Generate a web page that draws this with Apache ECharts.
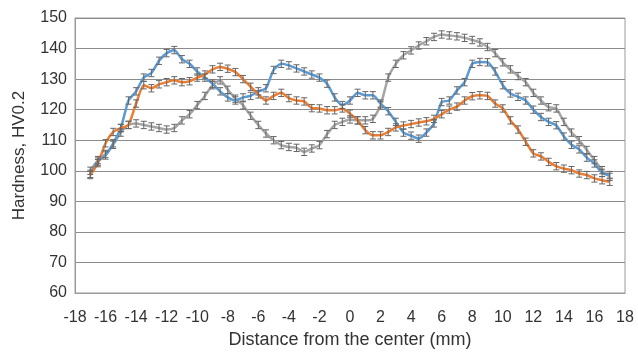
<!DOCTYPE html>
<html>
<head>
<meta charset="utf-8">
<script src="https://cdn.jsdelivr.net/npm/echarts@6/dist/echarts.min.js"></script>
<style>
  html, body { margin: 0; padding: 0; background: #fff; }
  #chart { width: 638px; height: 356px; }
</style>
</head>
<body>
<div id="chart"></div>
<script>
// distance from the center (mm), one reading every 0.5 mm
var xStart = -17;
var xStep = 0.5;

var blueVals = [99, 103, 105, 109, 114, 123, 126, 130.5, 132, 136, 138.5, 139.5, 136.5, 135, 132.5, 130.5, 128.5, 126, 124, 123,
  124, 124.5, 126, 127, 133, 135, 134.5, 133.5, 132.5, 131.5, 130.5, 128.5, 124, 121.5, 123, 125.5, 124.7, 124.7, 122, 119.5,
  116, 112.5, 111.5, 110.5, 112.5, 115.5, 122.5, 123, 126.3, 129, 135, 135.6, 135.5, 132.5, 128, 125.3, 124.2, 123, 120, 117.6,
  116, 114.9, 111.2, 108.5, 107, 104.3, 102.4, 99.3, 98.6];

var orangeVals = [98.6, 102.5, 109, 112.7, 114, 115, 122, 128, 127, 128.3, 129, 129.6, 129, 129.3, 130.5, 131.5, 133.2, 134, 133.4, 132.3,
  130, 127.5, 125, 123, 124.5, 125.5, 123.8, 123, 122.7, 120.5, 120.4, 119.8, 119.8, 120.4, 118.7, 116.5, 113.3, 111.6, 111.6, 112.7,
  114.2, 114.8, 115.3, 115.8, 116.2, 117, 118.5, 120, 121, 123, 124.4, 124.7, 124.5, 122, 120.4, 116.5, 113.5, 109.5, 105.7, 104.7,
  102.9, 101.5, 100.7, 100.2, 99.1, 98.6, 97.5, 96.9, 96.4];

var grayVals = [100, 103.5, 105.5, 108.5, 112.5, 115, 115.5, 115, 114.5, 114, 113.5, 114, 116.5, 118.5, 121.5, 124.5, 128, 129.6, 126.5, 123.6,
  121.4, 118, 115, 112.2, 110, 108.4, 107.8, 107.5, 106.2, 107.3, 108.4, 112, 115, 116, 116.8, 116.5, 116.5, 117, 121.4, 130.5,
  135, 137.8, 139.4, 141, 142.4, 143.8, 144.6, 144.3, 144, 143.5, 142.8, 142, 140.5, 138.5, 135.5, 133.2, 131, 129, 125.5, 123,
  120.8, 120.4, 116, 112.5, 110, 106.8, 103.5, 100.2, 98];

// error bar half-height (HV), same for every reading
var errHalf = 1.2;

var xTicks = { min: -18, max: 18, interval: 2 };
var yTicks = { min: 60, max: 150, interval: 10 };

var FONT = '"Liberation Sans", Arial, sans-serif';
var TXT = '#333333';

function pairs(vals) {
  return vals.map(function (v, i) { return [xStart + i * xStep, v]; });
}

function errSeries(vals, z) {
  return {
    type: 'custom',
    z: z,
    silent: true,
    data: vals.map(function (v, i) { return [xStart + i * xStep, v - errHalf, v + errHalf]; }),
    renderItem: function (params, api) {
      var lo = api.coord([api.value(0), api.value(1)]);
      var hi = api.coord([api.value(0), api.value(2)]);
      var w = 3;
      var st = { stroke: '#666666', lineWidth: 1 };
      return {
        type: 'group',
        children: [
          { type: 'line', shape: { x1: lo[0], y1: lo[1], x2: hi[0], y2: hi[1] }, style: st },
          { type: 'line', shape: { x1: lo[0] - w, y1: lo[1], x2: lo[0] + w, y2: lo[1] }, style: st },
          { type: 'line', shape: { x1: hi[0] - w, y1: hi[1], x2: hi[0] + w, y2: hi[1] }, style: st }
        ]
      };
    }
  };
}

function lineSeries(name, vals, color, z) {
  return {
    name: name,
    type: 'line',
    z: z,
    data: pairs(vals),
    showSymbol: false,
    smooth: 0.2,
    lineStyle: { color: color, width: 2.5 },
    itemStyle: { color: color }
  };
}

var chart = echarts.init(document.getElementById('chart'));
chart.setOption({
  animation: false,
  grid: {
    left: 75, right: 13, top: 18, bottom: 63,
    show: true, borderColor: '#9a9a9a', borderWidth: 1
  },
  xAxis: {
    type: 'value',
    min: xTicks.min, max: xTicks.max, interval: xTicks.interval,
    name: 'Distance from the center (mm)',
    nameLocation: 'middle',
    nameGap: 35,
    nameTextStyle: { fontFamily: FONT, fontSize: 18, color: TXT },
    axisLine: { show: true, onZero: false, lineStyle: { color: '#9a9a9a' } },
    axisTick: { show: false },
    splitLine: { show: false },
    axisLabel: { fontFamily: FONT, fontSize: 16, color: TXT, margin: 17 }
  },
  yAxis: {
    type: 'value',
    min: yTicks.min, max: yTicks.max, interval: yTicks.interval,
    name: 'Hardness, HV0.2',
    nameLocation: 'middle',
    nameGap: 47,
    nameTextStyle: { fontFamily: FONT, fontSize: 17, color: TXT },
    axisLine: { show: true, onZero: false, lineStyle: { color: '#9a9a9a' } },
    axisTick: { show: false },
    splitLine: { show: true, lineStyle: { color: '#8c8c8c', width: 1 } },
    axisLabel: { fontFamily: FONT, fontSize: 16, color: TXT, margin: 8 }
  },
  series: [
    lineSeries('Gray', grayVals, '#a5a5a5', 2),
    lineSeries('Blue', blueVals, '#5b9bd5', 3),
    lineSeries('Orange', orangeVals, '#ed7d31', 4),
    errSeries(grayVals, 5),
    errSeries(blueVals, 5),
    errSeries(orangeVals, 5)
  ]
});
</script>
</body>
</html>
